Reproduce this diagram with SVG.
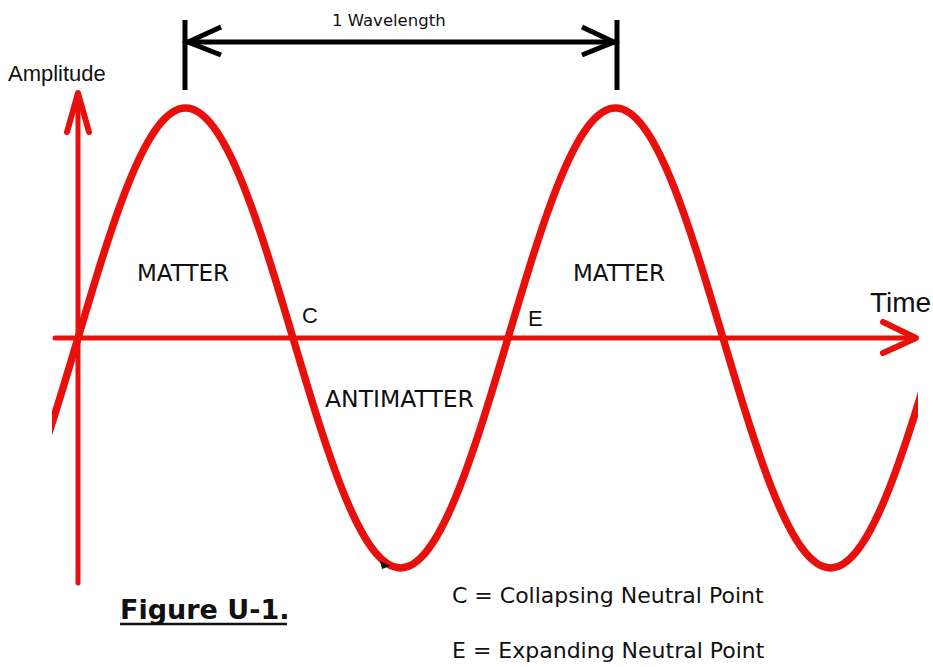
<svg xmlns="http://www.w3.org/2000/svg" width="933" height="667" viewBox="0 0 933 667">
<style>
.red{fill:none;stroke:#e8100c;stroke-linecap:round;stroke-linejoin:round}
.blk{fill:none;stroke:#000;stroke-width:5;stroke-linecap:butt}
.lab{font-family:"DejaVu Sans",Verdana,sans-serif;fill:#111}
.ar{font-family:"Liberation Sans",Arial,sans-serif;fill:#111}
</style>
<defs>
<clipPath id="wclip"><rect x="52" y="0" width="866" height="667"/></clipPath>
</defs>
<rect width="933" height="667" fill="#fff"/>
<g id="axes">
<line class="red" x1="55" y1="338" x2="915" y2="338" style="stroke-width:5"/>
<polyline class="red" points="883,322 916,338 883,353" style="stroke-width:6"/>
<line class="red" x1="78" y1="583" x2="78" y2="94" style="stroke-width:5"/>
<polyline class="red" points="67,132 78,93 89,132" style="stroke-width:6"/>
</g>
<g id="wave" clip-path="url(#wclip)">
<path class="red" style="stroke-width:7.5" d="M-29.5,568 C9.4,568 42.94,455.8 78,338 C113.06,220.2 146.6,108 185.5,108 C224.4,108 257.94,220.2 293,338 C328.06,455.8 361.6,568 400.5,568 C439.4,568 472.94,455.8 508,338 C543.06,220.2 576.6,108 615.5,108 C654.4,108 687.94,220.2 723,338 C758.06,455.8 791.6,568 830.5,568 C869.4,568 902.94,455.8 938,338"/>
<path d="M380,561 L390,566 L382,569 Z" fill="#111"/>
</g>
<g id="wavelength">
<line class="blk" x1="185" y1="20" x2="185" y2="90"/>
<line class="blk" x1="617" y1="20" x2="617" y2="90"/>
<line class="blk" x1="187" y1="42" x2="615" y2="42"/>
<polyline class="blk" points="221,27 188,42 221,55"/>
<polyline class="blk" points="582,27 614,42 582,55"/>
<text class="lab" x="332" y="26" font-size="16.5">1 Wavelength</text>
</g>
<g id="labels">
<text class="ar" x="8" y="81" font-size="22">Amplitude</text>
<text class="ar" x="870" y="312" font-size="28">Time</text>
<text class="lab" x="137" y="281" font-size="23">MATTER</text>
<text class="lab" x="573" y="281" font-size="23">MATTER</text>
<text class="lab" x="325" y="407" font-size="23.5">ANTIMATTER</text>
<text class="ar" x="302" y="323" font-size="22">C</text>
<text class="ar" x="528" y="326" font-size="22">E</text>
</g>
<g id="legend">
<text class="lab" x="120" y="619" font-size="27" font-weight="bold">Figure U-1.</text>
<line x1="120" y1="624" x2="287" y2="624" stroke="#111" stroke-width="2.5"/>
<text class="lab" x="452" y="603" font-size="22">C = Collapsing Neutral Point</text>
<text class="lab" x="452" y="658" font-size="22">E = Expanding Neutral Point</text>
</g>
</svg>
